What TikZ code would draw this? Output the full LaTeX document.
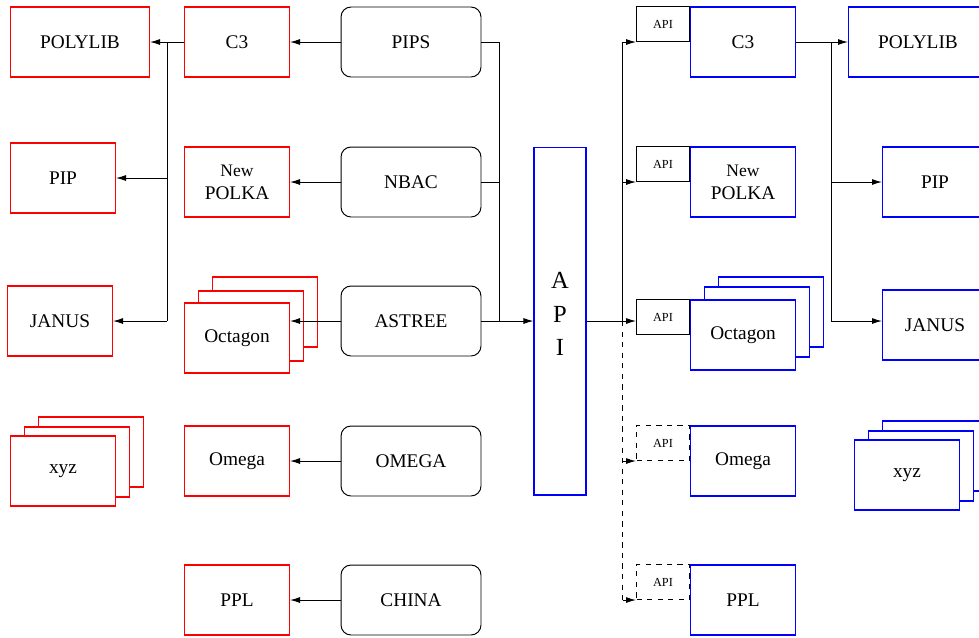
\documentclass[tikz,border=0pt]{standalone}
\usepackage{fontspec}
\setmainfont{Liberation Serif}
\usetikzlibrary{arrows.meta,positioning,calc}

\begin{document}
\begin{tikzpicture}[x=0.02cm, y=-0.02cm,
    every node/.style={inner sep=0pt, align=center, font=\rmfamily\fontsize{11}{13}\selectfont},
    lib/.style={draw=red, fill=white, line width=0.6pt, minimum width=2.1cm, minimum height=1.4cm},
    blib/.style={lib, draw=blue},
    tool/.style={draw, fill=white, rounded corners=0.2cm, line width=0.55pt, minimum width=2.8cm, minimum height=1.4cm},
    apitab/.style={draw, line width=0.55pt, minimum width=1.06cm, minimum height=0.7cm, font=\rmfamily\fontsize{7}{8}\selectfont},
    arr/.style={-{Latex[length=2mm,width=1.2mm]}, line width=0.55pt},
    link/.style={line width=0.55pt}]
  \useasboundingbox (0,0) rectangle (979,637);
  \clip (0,0) rectangle (979,637);

  % analysers
  \node[tool] (pips)   at (411,42)  {PIPS};
  \node[tool] (nbac)   at (411,182) {NBAC};
  \node[tool] (astree) at (411,321) {ASTREE};
  \node[tool] (omegaT) at (411,461) {OMEGA};
  \node[tool] (china)  at (411,600) {CHINA};

  % libraries, linked directly
  \node[lib] (c3L)     at (237,42)  {C3};
  \node[lib] (polkaL)  at (237,182) {{\fontsize{10}{11}\selectfont New}\\POLKA};
  \node[lib] (octLb)   at (265,312) {};
  \node[lib] (octLm)   at (251,326) {};
  \node[lib] (octL)    at (237,338) {Octagon};
  \node[lib] (omegaL)  at (237,461) {Omega};
  \node[lib] (pplL)    at (237,600) {PPL};

  \node[lib, minimum width=2.78cm] (polyL) at (80,42) {POLYLIB};
  \node[lib] (pipL)    at (63,178)  {PIP};
  \node[lib] (janusL)  at (60,321)  {JANUS};
  \node[lib] (xyzLb)   at (91,452)  {};
  \node[lib] (xyzLm)   at (77,462)  {};
  \node[lib] (xyzL)    at (63,471)  {xyz};

  \draw[arr] (pips) -- (c3L);
  \draw[arr] (nbac) -- (polkaL);
  \draw[arr] (astree) -- (astree -| octL.east);
  \draw[arr] (omegaT) -- (omegaL);
  \draw[arr] (china) -- (pplL);

  \coordinate (jL) at ($(c3L.west)+(-17,0)$);
  \draw[arr] (c3L) -- (polyL);
  \draw[link] (jL) -- (jL |- janusL);
  \draw[arr] (jL |- pipL) -- (pipL);
  \draw[arr] (jL |- janusL) -- (janusL);

  % common interface
  \node[draw=blue, line width=0.6pt, minimum width=1.04cm, minimum height=6.96cm,
        font=\rmfamily\fontsize{14}{19}\selectfont] (api) at (560,321) {A\\P\\I\\[-11pt]\mbox{}};

  \coordinate (jM) at ($(pips.east)+(18,0)$);
  \draw[link] (pips) -- (jM) -- (jM |- astree);
  \draw[link] (nbac) -- (nbac -| jM);
  \draw[arr] (astree) -- (api);

  % libraries, behind the interface
  \node[blib] (c3R)    at (743,42)  {C3};
  \node[blib] (polkaR) at (743,182) {{\fontsize{10}{11}\selectfont New}\\POLKA};
  \node[blib] (octRb)  at (771,312) {};
  \node[blib] (octRm)  at (757,322) {};
  \node[blib] (octR)   at (743,335) {Octagon};
  \node[blib] (omegaR) at (743,461) {Omega};
  \node[blib] (pplR)   at (743,600) {PPL};

  \node[apitab, anchor=south east] (tabC3)    at (c3R.west)        {API};
  \node[apitab, anchor=south east] (tabPolka) at (polkaR.west)     {API};
  \node[apitab, anchor=north east] (tabOct)   at (octR.north west) {API};
  \node[apitab, dashed, anchor=south east] (tabOmega) at (omegaR.west) {API};
  \node[apitab, dashed, anchor=south east] (tabPpl)   at (pplR.west)   {API};

  \node[blib, minimum width=2.78cm] (polyR) at (918,42) {POLYLIB};
  \node[blib] (pipR)   at (935,182) {PIP};
  \node[blib] (janusR) at (935,325) {JANUS};
  \node[blib] (xyzRb)  at (935,456) {};
  \node[blib] (xyzRm)  at (921,466) {};
  \node[blib] (xyzR)   at (907,475) {xyz};

  \coordinate (jR) at ($(api.east)+(36,0)$);
  \draw[link] (api) -- (jR);
  \draw[link] (jR) -- (jR |- tabC3.south);
  \draw[link, dashed] (jR) -- (jR |- tabPpl.south);
  \draw[arr] (jR |- tabC3.south) -- (tabC3.south west);
  \draw[arr] (jR |- tabPolka.south) -- (tabPolka.south west);
  \draw[arr] (jR) -- (jR -| tabOct.west);
  \draw[arr, dashed] (jR |- tabOmega.south) -- (tabOmega.south west);
  \draw[arr, dashed] (jR |- tabPpl.south) -- (tabPpl.south west);

  \coordinate (jR2) at ($(c3R.east)+(35,0)$);
  \coordinate (kR) at (jR2 |- api);
  \draw[arr] (c3R) -- (polyR);
  \draw[link] (jR2) -- (kR);
  \draw[arr] (jR2 |- pipR) -- (pipR);
  \draw[arr] (kR) -- (kR -| janusR.west);
\end{tikzpicture}
\end{document}
